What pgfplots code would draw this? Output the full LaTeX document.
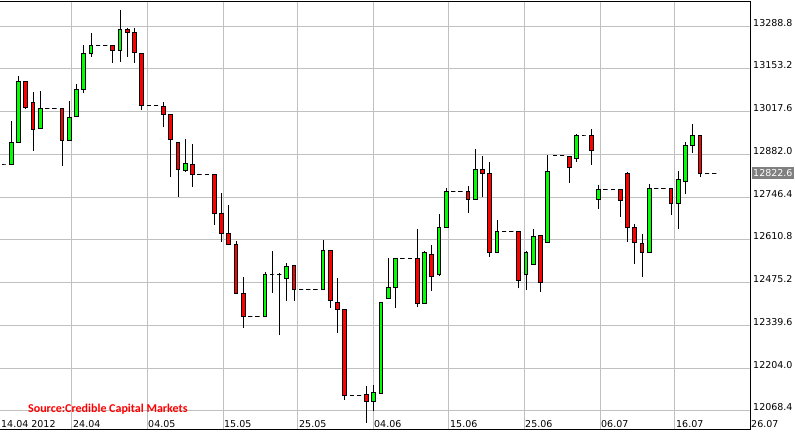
\documentclass[border=0pt]{standalone}
\usepackage{pgfplots}
\pgfplotsset{compat=1.18}
\usepackage{pgfplotstable}
\usepackage{fontspec}
\setmainfont{DejaVu Sans}
\newfontfamily\srcfont{Carlito}

\definecolor{upc}{RGB}{0,255,0}
\definecolor{downc}{RGB}{255,0,0}
\definecolor{gridc}{RGB}{192,192,192}
\definecolor{lastbox}{RGB}{128,128,128}

% daily bars, x = day slot (0 = 16.04.2012), weekends/holidays are flat bars
\pgfplotstableread{
x o h l c
-1 12848.2 12848.2 12848.2 12848.2
0 12850.4 12987.6 12848.2 12920.1
1 12918.8 13130.3 12918.8 13114.4
2 13114.4 13114.4 13025.7 13029.8
3 13046.9 13079.6 12893.5 12960.1
4 12964.5 13082.7 12964.5 13027.9
5 13027.9 13027.9 13027.9 13027.9
6 13027.9 13027.9 13027.9 13027.9
7 13027.9 13027.9 12845.9 12926.4
8 12926.4 13051.0 12926.4 12999.4
9 13002.5 13104.9 13002.5 13088.1
10 13088.1 13228.5 13077.3 13202.2
11 13202.2 13266.6 13191.5 13227.6
12 13227.6 13227.6 13227.6 13227.6
13 13227.6 13227.6 13227.6 13227.6
14 13227.6 13227.6 13172.4 13211.7
15 13211.7 13339.5 13175.6 13278.3
16 13278.3 13281.5 13191.5 13268.8
17 13268.8 13281.5 13172.4 13205.4
18 13202.2 13202.2 13021.5 13037.4
19 13037.4 13037.4 13037.4 13037.4
20 13037.4 13037.4 13037.4 13037.4
21 13034.2 13046.9 12967.7 13008.9
22 13008.9 13008.9 12809.2 12929.6
23 12920.1 12920.1 12747.7 12834.5
24 12831.3 12929.6 12825.0 12853.5
25 12850.4 12913.8 12777.5 12818.7
26 12818.7 12818.7 12818.7 12818.7
27 12818.7 12818.7 12818.7 12818.7
28 12819.6 12819.6 12658.9 12695.0
29 12695.0 12758.4 12605.0 12631.6
30 12631.6 12721.3 12596.8 12596.8
31 12596.8 12608.2 12438.3 12441.4
32 12441.4 12494.1 12332.4 12367.3
33 12367.3 12367.3 12367.3 12367.3
34 12367.3 12367.3 12367.3 12367.3
35 12367.3 12509.0 12367.3 12502.6
36 12502.6 12575.5 12443.3 12502.6
37 12500.0 12504.8 12309.2 12500.0
38 12488.4 12538.4 12418.6 12527.0
39 12530.5 12530.5 12417.7 12454.1
40 12454.1 12454.1 12454.1 12454.1
41 12454.1 12454.1 12454.1 12454.1
42 12454.1 12454.1 12454.1 12454.1
43 12454.1 12610.4 12454.1 12576.5
44 12576.5 12576.5 12395.8 12419.2
45 12412.9 12489.9 12314.6 12390.7
46 12390.7 12390.7 12104.2 12118.1
47 12118.1 12118.1 12118.1 12118.1
48 12118.1 12118.1 12118.1 12118.1
49 12121.6 12146.0 12030.3 12098.4
50 12097.8 12149.2 12068.3 12126.3
51 12124.4 12412.9 12124.4 12412.9
52 12425.6 12552.4 12425.6 12460.5
53 12460.5 12552.4 12395.8 12552.4
54 12552.4 12552.4 12552.4 12552.4
55 12552.4 12552.4 12552.4 12552.4
56 12552.4 12645.3 12399.0 12409.7
57 12409.7 12576.5 12409.7 12571.4
58 12566.0 12595.5 12449.7 12495.3
59 12502.6 12692.8 12497.2 12650.7
60 12650.7 12774.3 12650.7 12764.8
61 12764.8 12764.8 12764.8 12764.8
62 12764.8 12764.8 12764.8 12764.8
63 12764.8 12781.6 12695.0 12739.4
64 12739.4 12898.9 12739.4 12834.5
65 12834.5 12876.7 12745.8 12821.8
66 12821.8 12857.7 12557.5 12571.4
67 12571.4 12673.8 12571.4 12638.0
68 12638.0 12638.0 12638.0 12638.0
69 12638.0 12638.0 12638.0 12638.0
70 12638.0 12638.0 12457.3 12482.6
71 12501.7 12576.5 12450.9 12571.4
72 12534.3 12645.3 12534.3 12622.1
73 12625.3 12625.3 12446.5 12474.1
74 12603.1 12879.8 12603.1 12829.1
75 12878.9 12878.9 12878.9 12878.9
76 12878.9 12878.9 12878.9 12878.9
77 12874.5 12874.5 12792.0 12840.9
78 12869.4 12946.4 12858.6 12940.1
79 12940.1 12940.1 12940.1 12940.1
80 12943.2 12963.2 12849.1 12893.5
81 12739.4 12783.8 12709.6 12771.1
82 12771.1 12771.1 12771.1 12771.1
83 12771.1 12771.1 12771.1 12771.1
84 12771.1 12771.1 12684.3 12736.3
85 12821.8 12826.0 12605.0 12650.7
86 12650.7 12661.1 12533.4 12603.1
87 12599.9 12629.4 12492.2 12571.4
88 12571.4 12787.0 12571.4 12774.3
89 12774.3 12774.3 12774.3 12774.3
90 12774.3 12774.3 12774.3 12774.3
91 12774.3 12774.3 12689.6 12726.7
92 12726.7 12829.1 12644.3 12802.8
93 12795.2 12922.0 12755.3 12908.4
94 12908.4 12978.1 12887.1 12943.2
95 12943.2 12943.2 12809.2 12822.6
96 12822.6 12822.6 12822.6 12822.6
97 12822.6 12822.6 12822.6 12822.6
}\candles

\pgfplotstablegetrowsof{\candles}
\pgfmathtruncatemacro{\lastrow}{\pgfplotsretval-1}

\begin{document}
\begin{tikzpicture}
\useasboundingbox (0pt,-3pt) rectangle (795pt,430pt);
\begin{axis}[
	at={(0pt,0pt)}, anchor=south west,
	scale only axis, width=750pt, height=428pt,
	xmin=-1.559, xmax=101.89,
	ymin=12008.1, ymax=13364.9,
	clip=false,
	axis line style={draw=none},
	major tick length=0pt,
	tick style={draw=none},
	grid=major,
	major grid style={gridc, line width=1pt},
	font=\fontsize{9.5}{11}\selectfont,
	/pgf/number format/assume math mode=true,
	xtick={8.37,18.72,29.2,39.54,49.89,60.37,70.72,81.2,91.54,101.89},
	xticklabels={24.04,04.05,15.05,25.05,04.06,15.06,25.06,06.07,16.07,26.07},
	extra x ticks={-1.559},
	extra x tick labels={14.04 2012},
	extra x tick style={grid=none},
	xticklabel style={anchor=base west, yshift=2pt, inner xsep=1pt},
	ytick={12068.4,12204.0,12339.6,12475.2,12610.8,12746.4,12882.0,13017.6,13153.2,13288.8},
	yticklabels={12068.4,12204.0,12339.6,12475.2,12610.8,12746.4,12882.0,13017.6,13153.2,13288.8},
	yticklabel pos=right,
	yticklabel style={anchor=base west, inner xsep=3pt},
	extra y ticks={12822.6},
	extra y tick labels={12822.6},
	extra y tick style={grid=none, yticklabel style={anchor=west, fill=lastbox, text=white, inner xsep=1.5pt, inner ysep=2.5pt, xshift=1.5pt}},
]

\pgfplotsinvokeforeach{0,...,\lastrow}{
	\pgfplotstablegetelem{#1}{x}\of\candles \let\cX\pgfplotsretval
	\pgfplotstablegetelem{#1}{o}\of\candles \let\cO\pgfplotsretval
	\pgfplotstablegetelem{#1}{h}\of\candles \let\cH\pgfplotsretval
	\pgfplotstablegetelem{#1}{l}\of\candles \let\cL\pgfplotsretval
	\pgfplotstablegetelem{#1}{c}\of\candles \let\cC\pgfplotsretval
	\pgfmathsetmacro\bLo{min(\cO,\cC)}
	\pgfmathsetmacro\bHi{max(\cO,\cC)}
	\pgfmathsetmacro\xA{\cX-0.25}
	\pgfmathsetmacro\xB{\cX+0.25}
	\pgfmathtruncatemacro\isUp{\cC>\cO ? 1 : 0}
	\ifnum\isUp=1 \def\bCol{upc}\else\def\bCol{downc}\fi
	\edef\doCandle{%
		\noexpand\addplot[black, line width=1pt] coordinates {(\cX,\cL) (\cX,\cH)};
		\noexpand\addplot[draw=black, line width=1pt, line cap=rect, fill=\bCol]
			coordinates {(\xA,\bLo) (\xB,\bLo) (\xB,\bHi) (\xA,\bHi) (\xA,\bLo)};
	}
	\doCandle
}

% chart frame: top, right, bottom
\draw[black, line width=1pt] (rel axis cs:0,1) -- (rel axis cs:1,1) -- (rel axis cs:1,0) -- (rel axis cs:0,0);

\node[anchor=base west, text=red, inner sep=0pt, font=\srcfont\bfseries\fontsize{12}{13}\selectfont]
	at (rel axis cs:0.0373,0.0404) {Source:Credible Capital Markets};
\end{axis}
\end{tikzpicture}
\end{document}
